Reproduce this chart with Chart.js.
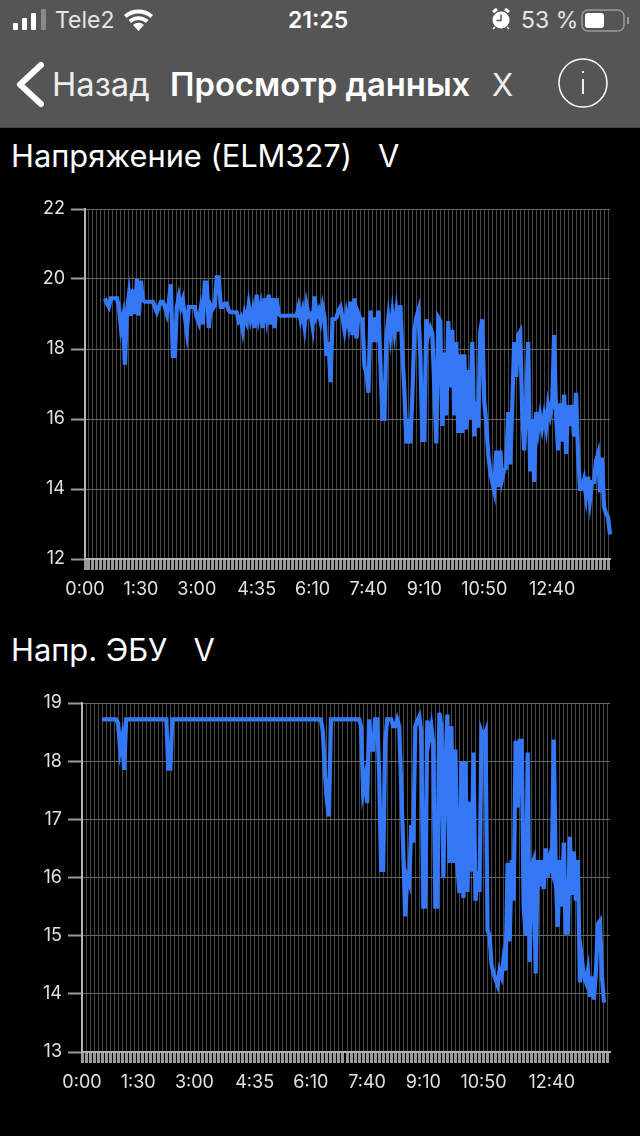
<!DOCTYPE html>
<html lang="ru">
<head>
<meta charset="utf-8">
<title>Просмотр данных</title>
<script src="https://cdn.jsdelivr.net/npm/chart.js@4"></script>
<style>
html,body{margin:0;padding:0;background:#000;width:640px;height:1136px;overflow:hidden}
body{position:relative;font-family:Inter,"Liberation Sans",sans-serif;color:#fff}
.head{position:absolute;left:0;top:0;width:640px;height:127px;background:#555;border-bottom:1px solid #444}
.t{position:absolute;white-space:pre;line-height:1}
svg{position:absolute;overflow:visible}
canvas{position:absolute;left:0}
</style>
</head>
<body>
<div class="head"></div>
<svg style="left:0;top:0" width="640" height="128">
  <g fill="#fff">
    <rect x="13" y="23" width="5" height="7" rx="1"/>
    <rect x="22" y="18" width="5" height="12" rx="1"/>
    <rect x="31" y="13" width="5" height="17" rx="1"/>
    <rect x="41" y="9" width="5" height="21" rx="1" fill="#8a8a8a"/>
    <path d="M138.500 31l-5.500-6a8 8 0 0 1 11 0z"/>
    <path d="M128.500 20a15 15 0 0 1 20 0l-2.500 3a11 11 0 0 0-15 0z"/>
    <path d="M124 15a22 22 0 0 1 29 0l-2.500 3a18 18 0 0 0-24 0z"/>
  </g>
  <g>
    <circle cx="501" cy="20" r="8.500" fill="#fff"/>
    <path d="M501 14.500v6h-4.500" stroke="#555" stroke-width="1.500" fill="none"/>
    <path d="M493 12l4-3M509 12l-4-3" stroke="#fff" stroke-width="3"/>
    <path d="M495 27l-2 2M507 27l2 2" stroke="#fff" stroke-width="1.500"/>
  </g>
  <rect x="582" y="10" width="42" height="21" rx="6" fill="none" stroke="#9a9a9a" stroke-width="1.500"/>
  <rect x="585" y="13" width="19" height="15" rx="3" fill="#fff"/>
  <path d="M628 17v7" stroke="#9a9a9a" stroke-width="2"/>
  <path d="M41 65L20 84.500L41 104" fill="none" stroke="#fff" stroke-width="6" stroke-linecap="round" stroke-linejoin="round"/>
  <circle cx="583" cy="83" r="24" fill="none" stroke="#fff" stroke-width="1.500"/>
  <path d="M583 71v2M583 79v15" stroke="#fff" stroke-width="1.800"/>
</svg>
<div class="t" style="left:55px;top:9px;font-size:23px;color:#e6e6e6">Tele2</div>
<div class="t" style="left:288px;top:9px;font-size:23px;font-weight:600">21:25</div>
<div class="t" style="left:521px;top:9px;font-size:23px;color:#e6e6e6">53 %</div>
<div class="t" style="left:52px;top:68px;font-size:32.700px;color:#eee">Назад</div>
<div class="t" style="left:170px;top:68px;font-size:32.800px;font-weight:600">Просмотр данных</div>
<div class="t" style="left:492px;top:69px;font-size:31px;color:#eee">X</div>
<div class="t" style="left:11px;top:141px;font-size:30.800px">Напряжение (ELM327)   V</div>
<div class="t" style="left:11px;top:635px;font-size:30.800px">Напр. ЭБУ   V</div>

<canvas id="ch-elm" style="top:190px"></canvas>
<canvas id="ch-ecu" style="top:684px"></canvas>

<script>
'use strict';
// one sample every 2 px; the logger starts a little after 0:00
const sampleCount = 264, leadingGap = 10;

const tickIndex = [0, 28, 56, 86, 114, 142, 170, 200, 234];
const tickTexts = ['0:00', '1:30', '3:00', '4:35', '6:10', '7:40', '9:10', '10:50', '12:40'];

const elmTicks = { min: 12, max: 22, step: 2 };
const ecuTicks = { min: 13, max: 19, step: 1 };

const voltageElm = [
  19.45,19.3,19.2,19.45,19.45,19.45,19.45,19.2,18.6,18.9,17.55,19.1,
  19.55,18.95,19.7,19.0,20.0,18.95,19.95,19.4,19.35,19.35,19.35,19.35,19.35,
  19.2,19.05,19.2,19.35,19.35,19.2,19.0,19.35,19.85,17.8,17.8,19.2,19.5,19.2,19.4,18.95,18.5,
  19.2,19.2,19.2,19.2,18.9,18.75,19.15,18.7,19.9,19.9,18.6,19.25,19.15,19.25,20.05,20.05,
  19.2,19.2,19.3,19.3,19.1,19.05,19.05,19.05,19.05,18.8,18.9,18.55,19.0,18.8,19.25,18.85,19.1,18.6,
  19.55,18.9,19.2,18.6,19.45,18.95,19.55,18.7,19.45,18.6,19.45,19.0,18.95,
  18.95,18.95,18.95,18.95,18.95,18.95,18.95,18.95,
  19.2,18.85,19.1,18.65,19.25,18.95,19.0,18.65,19.5,18.95,19.1,18.8,19.2,18.9,17.8,18.2,17.05,18.85,18.85,18.9,19.1,
  19.2,18.9,18.55,19.0,18.7,19.35,18.4,19.45,18.3,19.0,18.85,18.85,17.5,17.3,16.75,19.1,18.2,18.9,18.2,19.1,17.6,16.0,16.0,
  18.3,18.9,18.4,19.0,18.5,19.05,18.5,19.25,17.9,16.8,15.3,16.0,15.3,16.7,18.5,18.9,19.1,17.8,15.4,15.4,18.85,18.4,18.6,18.45,
  16.9,15.3,18.9,18.8,15.8,17.9,16.1,18.8,16.9,18.55,16.1,18.2,15.6,17.85,15.6,17.85,15.7,17.4,16.0,18.2,15.5,16.5,15.75,
  18.5,18.85,16.5,15.9,15.0,14.5,14.2,13.95,15.1,14.05,15.1,14.3,14.55,14.6,16.2,14.7,16.3,18.2,17.2,18.4,18.5,16.3,15.1,16.3,18.2,
  14.5,16.0,14.2,16.2,15.7,16.1,15.75,16.1,15.75,16.4,16.1,16.4,18.4,16.1,15.1,16.45,15.35,16.7,15.0,16.4,15.8,16.4,15.5,16.75,
  15.0,14.0,14.0,14.25,13.8,14.35,13.7,14.2,14.2,14.8,15.0,13.9,14.9,13.5,13.3,13.2,12.7
];

const voltageEcu = [
  18.72,18.72,18.72,18.72,18.72,18.72,18.72,18.72,18.65,18.2,18.4,17.85,18.72,
  18.72,18.72,18.72,18.72,18.72,18.72,18.72,18.72,18.72,18.72,18.72,18.72,18.72,18.72,18.72,18.72,18.72,18.72,18.72,
  18.72,17.87,17.87,18.72,
  18.72,18.72,18.72,18.72,18.72,18.72,18.72,18.72,18.72,18.72,18.72,18.72,18.72,18.72,18.72,18.72,18.72,18.72,18.72,18.72,
  18.72,18.72,18.72,18.72,18.72,18.72,18.72,18.72,18.72,18.72,18.72,18.72,18.72,18.72,18.72,18.72,18.72,18.72,18.72,18.72,
  18.72,18.72,18.72,18.72,18.72,18.72,18.72,18.72,18.72,18.72,18.72,18.72,18.72,18.72,18.72,18.72,18.72,18.72,18.72,18.72,
  18.72,18.72,18.72,18.72,18.72,18.72,18.72,18.72,18.72,18.72,18.72,18.72,18.72,
  18.72,18.5,17.8,17.3,17.05,18.72,
  18.72,18.72,18.72,18.72,18.72,18.72,18.72,18.72,18.72,18.72,18.72,18.72,18.72,18.72,
  18.6,17.5,17.7,17.28,18.72,18.2,18.2,18.72,18.72,17.8,16.13,16.13,18.3,18.72,18.72,18.72,18.6,18.6,18.72,18.6,17.6,16.5,15.33,16.0,
  15.9,16.9,16.6,18.6,18.7,18.77,18.5,15.5,15.5,18.7,18.4,18.6,18.3,15.5,15.5,18.83,18.6,16.0,17.9,18.8,16.25,18.6,16.25,18.2,16.2,
  15.73,18.0,15.65,18.0,15.75,17.3,16.1,18.15,15.6,16.1,15.75,18.5,18.4,18.5,15.1,15.0,14.5,14.35,14.25,14.15,14.4,14.3,14.6,14.4,
  16.25,14.9,16.3,15.6,18.35,17.2,18.35,18.35,15.5,15.0,18.15,14.55,16.2,16.3,14.35,16.3,15.85,16.3,15.8,16.5,16.0,16.3,16.15,18.37,
  16.0,15.15,16.3,15.5,16.6,15.05,15.05,16.7,15.7,16.45,15.6,16.3,14.2,14.6,14.3,14.2,14.4,13.95,14.3,13.9,14.4,15.2,15.25,14.3,13.85
];

const sampleLabels = Array.from({ length: sampleCount }, (_, i) => String(i));

function padded(values) {
  return new Array(leadingGap).fill(null).concat(values).slice(0, sampleCount);
}

function voltageChart(id, values, yt, box) {
  const cv = document.getElementById(id);
  cv.width = 640; cv.height = box.h;
  cv.style.width = '640px'; cv.style.height = box.h + 'px';
  return new Chart(cv, {
    type: 'line',
    data: {
      labels: sampleLabels,
      datasets: [{ data: padded(values), borderColor: '#3478f6', borderWidth: 4.2, borderJoinStyle: 'miter', pointRadius: 0, tension: 0 }]
    },
    options: {
      responsive: false, animation: false, devicePixelRatio: 1,
      layout: { padding: { top: box.top, right: 30 } },
      plugins: { legend: { display: false }, tooltip: { enabled: false } },
      scales: {
        x: {
          afterBuildTicks: s => { s.ticks = s.ticks.filter(t => t.value % 2 === 0); },
          afterFit: s => { s.height = box.bottom; },
          grid: { color: '#484848', lineWidth: 1, tickColor: '#9a9a9a', tickWidth: 3, tickLength: 11 },
          border: { color: '#b4b4b4', width: 2 },
          ticks: {
            autoSkip: false, maxRotation: 0, minRotation: 0, padding: 9, color: '#e0e0e0',
            font: { family: 'Inter', size: 18 },
            callback: v => { const i = tickIndex.indexOf(v); return i < 0 ? '' : tickTexts[i]; }
          }
        },
        y: {
          min: yt.min, max: yt.max,
          afterFit: s => { s.width = box.left; },
          grid: { color: '#666666', lineWidth: 1, tickColor: '#9a9a9a', tickWidth: 2, tickLength: 14 },
          border: { color: '#b4b4b4', width: 2 },
          ticks: { stepSize: yt.step, padding: 6, color: '#e0e0e0', font: { family: 'Inter', size: 18 } }
        }
      }
    }
  });
}

voltageChart('ch-elm', voltageElm, elmTicks, { h: 420, top: 19, bottom: 51, left: 85 });
voltageChart('ch-ecu', voltageEcu, ecuTicks, { h: 420, top: 19, bottom: 52, left: 82 });
</script>
</body>
</html>
